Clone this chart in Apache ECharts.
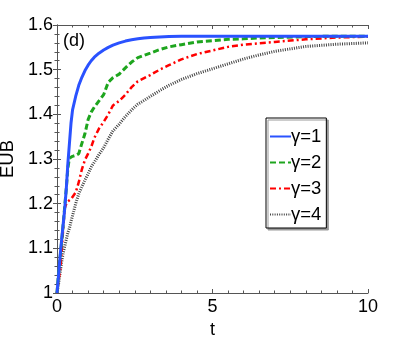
<!DOCTYPE html>
<html>
<head>
<meta charset="utf-8">
<script src="https://cdn.jsdelivr.net/npm/echarts@6/dist/echarts.min.js"></script>
<style>
  html, body { margin: 0; padding: 0; background: #fff; }
  #chart { width: 407px; height: 338px; }
</style>
</head>
<body>
<div id="chart"></div>
<script>
// time samples
const tVals = [0, 0.05, 0.1, 0.15, 0.2, 0.25, 0.3, 0.35, 0.4, 0.45, 0.5, 0.6, 0.7, 0.8, 0.9, 1.0, 1.1, 1.2, 1.35, 1.5, 1.65, 1.8, 2.0, 2.2, 2.4, 2.6, 2.8, 3.0, 3.3, 3.6, 4.0, 4.5, 5.0, 5.5, 6.0, 6.5, 7, 8, 9, 10];

// EUB for each gamma
const eubG1 = [1, 1.04, 1.083, 1.12, 1.155, 1.19, 1.235, 1.29, 1.335, 1.38, 1.41, 1.44, 1.465, 1.483, 1.498, 1.51, 1.52, 1.528, 1.537, 1.544, 1.55, 1.555, 1.56, 1.564, 1.567, 1.569, 1.571, 1.572, 1.573, 1.574, 1.575, 1.575, 1.575, 1.575, 1.575, 1.575, 1.575, 1.575, 1.575, 1.575];
const eubG2 = [1, 1.045, 1.08, 1.115, 1.155, 1.195, 1.235, 1.28, 1.302, 1.305, 1.306, 1.308, 1.312, 1.335, 1.357, 1.388, 1.405, 1.416, 1.43, 1.444, 1.472, 1.482, 1.49, 1.504, 1.517, 1.527, 1.532, 1.537, 1.545, 1.551, 1.556, 1.562, 1.565, 1.568, 1.569, 1.571, 1.572, 1.574, 1.575, 1.575];
const eubG3 = [1, 1.03, 1.05, 1.095, 1.145, 1.19, 1.2, 1.205, 1.208, 1.21, 1.212, 1.225, 1.248, 1.277, 1.298, 1.312, 1.327, 1.347, 1.368, 1.383, 1.4, 1.42, 1.43, 1.444, 1.461, 1.474, 1.481, 1.488, 1.5, 1.51, 1.523, 1.535, 1.543, 1.551, 1.556, 1.559, 1.562, 1.568, 1.572, 1.574];
const eubG4 = [1, 1.02, 1.045, 1.07, 1.09, 1.105, 1.12, 1.135, 1.145, 1.16, 1.173, 1.2, 1.222, 1.238, 1.253, 1.267, 1.282, 1.293, 1.31, 1.325, 1.345, 1.363, 1.378, 1.395, 1.41, 1.423, 1.431, 1.44, 1.453, 1.465, 1.478, 1.491, 1.502, 1.513, 1.524, 1.533, 1.541, 1.552, 1.557, 1.56];

const legendNames = ["γ=1", "γ=2", "γ=3", "γ=4"];

const FONT = "Liberation Sans";
const AXIS_COLOR = "#555";

const pairs = (ys) => tVals.map((t, i) => [t, ys[i]]);

const chart = echarts.init(document.getElementById("chart"));

const tickCommon = {
  axisLine: { show: true, lineStyle: { color: AXIS_COLOR, width: 1 } },
  axisTick: { show: true, inside: true, length: 4, lineStyle: { color: AXIS_COLOR } },
  minorTick: { show: true, length: 2.5, lineStyle: { color: AXIS_COLOR } },
  splitLine: { show: false },
};

chart.setOption({
  animation: false,
  textStyle: { fontFamily: FONT },
  grid: { left: 57, top: 25, right: 39, bottom: 45, outerBoundsMode: "none", containLabel: false },
  legend: {
    orient: "vertical",
    left: 266,
    top: 118,
    data: legendNames,
    itemWidth: 21,
    itemHeight: 12,
    itemGap: 7,
    padding: [9, 5, 4, 3],
    backgroundColor: "#fff",
    borderColor: "#000",
    borderWidth: 1,
    borderRadius: 0,
    shadowColor: "#999",
    shadowOffsetX: 2,
    shadowOffsetY: 2,
    shadowBlur: 0,
    itemStyle: { opacity: 0 },
    textStyle: { fontFamily: FONT, fontSize: 18.5, lineHeight: 18, color: "#000", padding: [0, 0, 0, -5] },
  },
  graphic: [
    {
      type: "text",
      left: 63,
      top: 32,
      style: { text: "(d)", font: "18px " + FONT, fill: "#000" },
    },
  ],
  xAxis: [
    Object.assign({}, tickCommon, {
      type: "value",
      min: 0,
      max: 10,
      interval: 5,
      minorTick: Object.assign({}, tickCommon.minorTick, { splitNumber: 10 }),
      name: "t",
      nameLocation: "middle",
      nameGap: 26,
      nameTextStyle: { fontSize: 18, color: "#000", fontFamily: FONT },
      axisLabel: { fontSize: 18, color: "#000", margin: 5, fontFamily: FONT },
    }),
    Object.assign({}, tickCommon, {
      type: "value",
      position: "top",
      min: 0,
      max: 10,
      interval: 5,
      minorTick: Object.assign({}, tickCommon.minorTick, { splitNumber: 10 }),
      axisLabel: { show: false },
    }),
  ],
  yAxis: [
    Object.assign({}, tickCommon, {
      type: "value",
      min: 1,
      max: 1.6,
      interval: 0.1,
      minorTick: Object.assign({}, tickCommon.minorTick, { splitNumber: 5 }),
      name: "EUB",
      nameLocation: "middle",
      nameGap: 36,
      nameTextStyle: { fontSize: 18.5, color: "#000", fontFamily: FONT },
      axisLabel: {
        fontSize: 18,
        color: "#000",
        margin: 4,
        fontFamily: FONT,
        formatter: (v) => (Math.abs(v - 1) < 1e-9 ? "1" : v.toFixed(1)),
      },
    }),
    Object.assign({}, tickCommon, {
      type: "value",
      position: "right",
      min: 1,
      max: 1.6,
      interval: 0.1,
      minorTick: Object.assign({}, tickCommon.minorTick, { splitNumber: 5 }),
      axisLabel: { show: false },
    }),
  ],
  series: [
    {
      name: legendNames[3],
      type: "line",
      symbol: "none",
      data: pairs(eubG4),
      lineStyle: { color: "#444", width: 3, type: [1, 1.3] },
      itemStyle: { color: "#444" },
      z: 1,
    },
    {
      name: legendNames[2],
      type: "line",
      symbol: "none",
      data: pairs(eubG3),
      lineStyle: { color: "#ff0000", width: 2.5, type: [6, 3, 2, 3] },
      itemStyle: { color: "#ff0000" },
      z: 2,
    },
    {
      name: legendNames[1],
      type: "line",
      symbol: "none",
      data: pairs(eubG2),
      lineStyle: { color: "#1ea51e", width: 3, type: [6, 3] },
      itemStyle: { color: "#1ea51e" },
      z: 3,
    },
    {
      name: legendNames[0],
      type: "line",
      symbol: "none",
      data: pairs(eubG1),
      lineStyle: { color: "#2a52ff", width: 3 },
      itemStyle: { color: "#2a52ff" },
      z: 4,
    },
  ],
});
</script>
</body>
</html>
